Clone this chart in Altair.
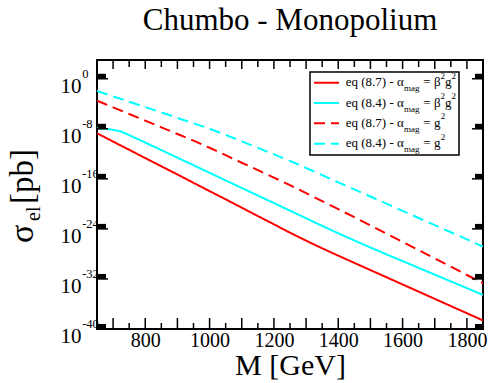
import altair as alt
import pandas as pd

# ---------------- data ----------------
M = [650, 675, 700, 725, 750, 800, 850, 900, 950, 1000, 1050, 1100, 1150, 1200,
     1250, 1300, 1350, 1400, 1450, 1500, 1550, 1600, 1650, 1700, 1750, 1800, 1850]
# log10(sigma_el / pb)
log_sig_87_b2g2 = [-8.72, -9.37, -10.04, -10.70, -11.35, -12.68, -13.99, -15.30, -16.63,
                   -17.96, -19.27, -20.61, -21.94, -23.26, -24.61, -25.88, -27.10, -28.28,
                   -29.43, -30.58, -31.73, -32.88, -34.03, -35.18, -36.33, -37.48, -38.63]
log_sig_84_b2g2 = [-7.92, -7.97, -8.17, -8.43, -9.01, -10.20, -11.40, -12.62, -13.82,
                   -15.03, -16.25, -17.46, -18.66, -19.87, -21.09, -22.30, -23.52, -24.70,
                   -25.85, -26.97, -28.07, -29.15, -30.23, -31.31, -32.39, -33.47, -34.55]
log_sig_87_g2 = [-3.51, -4.03, -4.58, -5.10, -5.63, -6.70, -7.76, -8.83, -9.89,
                 -11.03, -12.22, -13.42, -14.60, -15.80, -17.00, -18.28, -19.56, -20.85,
                 -22.13, -23.45, -24.77, -26.09, -27.40, -28.73, -30.04, -31.37, -32.68]
log_sig_84_g2 = [-1.96, -2.39, -2.82, -3.24, -3.68, -4.53, -5.39, -6.26, -7.12,
                 -7.97, -8.97, -10.01, -11.05, -12.09, -13.13, -14.26, -15.40, -16.55,
                 -17.68, -18.82, -19.97, -21.11, -22.26, -23.40, -24.53, -25.68, -26.81]

series_keys = ["87_b2g2", "84_b2g2", "87_g2", "84_g2"]
series_eq = ["8.7", "8.4", "8.7", "8.4"]
series_beta = [True, True, False, False]
series_colors = ["#ff0000", "#00ffff", "#ff0000", "#00ffff"]
series_dash = [[1, 0], [1, 0], [11, 6], [11, 6]]

x_label_values = [800, 1000, 1200, 1400, 1600, 1800]
x_tick_values = list(range(700, 1850, 50))
y_tick_exps = [0, -8, -16, -24, -32, -40]

title_text = "Chumbo - Monopolium"
x_title = "M [GeV]"

FONT = "Liberation Serif"
W, H = 386, 269

# ---------------- tables ----------------
rows = []
for key, vals in zip(series_keys, [log_sig_87_b2g2, log_sig_84_b2g2, log_sig_87_g2, log_sig_84_g2]):
    for m, lv in zip(M, vals):
        rows.append({"M": m, "sigma": 10 ** lv, "series": key})
df = pd.DataFrame(rows)

xscale = alt.Scale(domain=[650, 1850], nice=False, zero=False)
yscale = alt.Scale(type="log", domain=[1e-40, 1e3], nice=False)
cscale = alt.Scale(domain=series_keys, range=series_colors)
dscale = alt.Scale(domain=series_keys, range=series_dash)

lines = alt.Chart(df).mark_line(strokeWidth=2, clip=True).encode(
    x=alt.X("M:Q", scale=xscale, title=None,
            axis=alt.Axis(values=x_label_values, format="d", ticks=False, domain=False, grid=False,
                          labelFont=FONT, labelFontSize=20, labelColor="black",
                          labelPadding=1, labelFlush=False)),
    y=alt.Y("sigma:Q", scale=yscale, axis=None),
    color=alt.Color("series:N", scale=cscale, legend=None),
    strokeDash=alt.StrokeDash("series:N", scale=dscale, legend=None),
    order="M:Q",
)

xt = pd.DataFrame({"M": x_tick_values})
xt["major"] = xt["M"] % 100 == 0
maj = xt[xt["major"]]
mnr = xt[~xt["major"]]
tick_layers = [
    alt.Chart(maj).mark_rule(color="black", strokeWidth=1.5).encode(x="M:Q", y=alt.value(H), y2=alt.value(H - 11)),
    alt.Chart(mnr).mark_rule(color="black", strokeWidth=1.5).encode(x="M:Q", y=alt.value(H), y2=alt.value(H - 6)),
    alt.Chart(maj).mark_rule(color="black", strokeWidth=1.5).encode(x="M:Q", y=alt.value(0), y2=alt.value(9)),
    alt.Chart(mnr).mark_rule(color="black", strokeWidth=1.5).encode(x="M:Q", y=alt.value(0), y2=alt.value(7)),
]

yt = pd.DataFrame({"e": y_tick_exps})
yt["v"] = 10.0 ** yt["e"]
yt["v2"] = 10.0 ** (yt["e"] + 0.8)
yt["base"] = "10"
yt["sup"] = yt["e"].astype(str)
ytick_layers = [
    alt.Chart(yt).mark_rule(color="black", strokeWidth=1.5).encode(y=alt.Y("v:Q"), x=alt.value(0), x2=alt.value(11)),
    alt.Chart(yt).mark_rule(color="black", strokeWidth=1.5).encode(y=alt.Y("v:Q"), x=alt.value(W - 11), x2=alt.value(W)),
    alt.Chart(yt).mark_rect(color="black").encode(y=alt.Y("v:Q"), y2="v2:Q", x=alt.value(1), x2=alt.value(9)),
    alt.Chart(yt).mark_rect(color="black").encode(y=alt.Y("v:Q"), y2="v2:Q", x=alt.value(W - 8), x2=alt.value(W - 1)),
    alt.Chart(yt).mark_text(font=FONT, fontSize=21, align="right", baseline="alphabetic", dy=14, color="black").encode(
        y=alt.Y("v:Q"), x=alt.value(-15.5), text="base:N"),
    alt.Chart(yt).mark_text(font=FONT, fontSize=12.5, align="left", baseline="alphabetic", dy=-1, color="black").encode(
        y=alt.Y("v:Q"), x=alt.value(-14.8), text="sup:N"),
]

# ---------------- legend (drawn by hand) ----------------
row_y = [22.7, 43.0, 63.3, 83.7]
leg_lines = pd.DataFrame({"series": series_keys, "ly": row_y})
big, small = [], []
for key, eq, beta, ry in zip(series_keys, series_eq, series_beta, row_y):
    big.append({"px": 248.7, "py": ry + 3.5, "t": f"eq ({eq}) - α"})
    small.append({"px": 307.0, "py": ry + 8.5, "t": "mag"})
    if beta:
        big.append({"px": 326.3, "py": ry + 3.5, "t": "= β"})
        small.append({"px": 343.5, "py": ry - 4, "t": "2"})
        big.append({"px": 348.0, "py": ry + 3.5, "t": "g"})
        small.append({"px": 354.5, "py": ry - 4, "t": "2"})
    else:
        big.append({"px": 326.3, "py": ry + 3.5, "t": "= g"})
        small.append({"px": 343.8, "py": ry - 4, "t": "2"})
big = pd.DataFrame(big)
small = pd.DataFrame(small)

one = pd.DataFrame({"a": [0]})
legend_layers = [
    alt.Chart(one).mark_rect(fill="white", stroke="black", strokeWidth=1.5).encode(
        x=alt.value(213), x2=alt.value(362), y=alt.value(12), y2=alt.value(95)),
    alt.Chart(leg_lines).mark_rule(strokeWidth=2).encode(
        x=alt.value(217), x2=alt.value(242), y=alt.Y("ly:Q", scale=None),
        color=alt.Color("series:N", scale=cscale, legend=None),
        strokeDash=alt.StrokeDash("series:N", scale=dscale, legend=None)),
    alt.Chart(big).mark_text(font=FONT, fontSize=13, align="left", baseline="alphabetic", color="black").encode(
        x=alt.X("px:Q", scale=None), y=alt.Y("py:Q", scale=None), text="t:N"),
    alt.Chart(small).mark_text(font=FONT, fontSize=9, align="left", baseline="alphabetic", color="black").encode(
        x=alt.X("px:Q", scale=None), y=alt.Y("py:Q", scale=None), text="t:N"),
]

# ---------------- titles ----------------
titles = pd.DataFrame([
    {"px": W / 2, "py": -30, "t": title_text, "s": 31},
    {"px": 193.5, "py": 315, "t": x_title, "s": 30},
])
ytitle = pd.DataFrame([
    {"px": -64, "py": 183, "t": "σ", "s": 34},
    {"px": -57, "py": 161, "t": "el", "s": 20},
    {"px": -64, "py": 144, "t": "[pb]", "s": 33},
])
title_layers = [
    alt.Chart(titles).mark_text(font=FONT, baseline="alphabetic", align="center", color="black").encode(
        x=alt.X("px:Q", scale=None), y=alt.Y("py:Q", scale=None), text="t:N",
        size=alt.Size("s:Q", scale=None, legend=None)),
    alt.Chart(ytitle).mark_text(font=FONT, baseline="alphabetic", align="left", color="black").encode(
        x=alt.X("px:Q", scale=None), y=alt.Y("py:Q", scale=None), text="t:N",
        angle=alt.value(270),
        size=alt.Size("s:Q", scale=None, legend=None)),
]

chart = alt.layer(lines, *tick_layers, *ytick_layers, *legend_layers, *title_layers).properties(
    width=W, height=H,
    padding={"left": 97, "top": 60, "right": 5, "bottom": 54},
    autosize="none",
    background="white",
).configure_view(stroke="black", strokeWidth=2)

chart.save("out.html", embed_options={"renderer": "svg", "actions": False})
